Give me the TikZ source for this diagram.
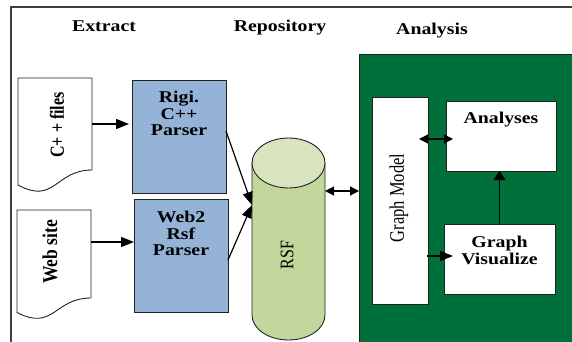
\documentclass[tikz,border=0pt]{standalone}
\usepackage{fontspec}
\setmainfont{Liberation Serif}
\newfontfamily\widefont{Liberation Serif}[FakeStretch=1.2]
\usetikzlibrary{arrows.meta}

\definecolor{parserblue}{HTML}{95B3D7}
\definecolor{rsfbody}{HTML}{C3D69B}
\definecolor{rsftop}{HTML}{D7E4BD}
\definecolor{panelgreen}{HTML}{00703A}
\definecolor{inkline}{HTML}{222222}

\tikzset{
  area/.style={inner sep=0pt, outer sep=0pt, anchor=north west},
  boxed/.style={area, draw=inkline, line width=0.9pt},
  head/.style={font=\widefont\bfseries\fontsize{16.5}{16.5}\selectfont, inner sep=0pt, anchor=base},
  boxtext/.style={font=\widefont\bfseries\fontsize{16.5}{16.5}\selectfont, inner sep=0pt, align=center, anchor=north},
  sidetext/.style={inner sep=0pt, rotate=90, anchor=center},
  arr/.style={draw=black, line width=1.2pt, -{Triangle[length=13pt,width=10pt]}},
  uparr/.style={draw=black, line width=1.2pt, -{Triangle[length=9pt,width=12pt]}},
  darr/.style={draw=black, line width=1.2pt, {Triangle[length=9pt,width=9pt]}-{Triangle[length=9pt,width=9pt]}},
  docline/.style={draw=inkline, line width=0.9pt, fill=white}
}

\begin{document}
\begin{tikzpicture}[x=1pt,y=-1pt]
\useasboundingbox (0,0) rectangle (572,342);

% outer frame, open towards the right and the bottom
\draw[line width=1.4pt, black!75] (11,342) -- (11,7) -- (572,7);

% column headings
\node[head] (hextract) at (104,32) {Extract};
\node[head] (hrepo) at (280,32) {Repository};
\node[head] (hanalysis) at (432,35) {Analysis};

% ---------- Extract ----------
\node[area, minimum width=74pt, minimum height=92pt] (cppdoc) at (18,78) {};
\draw[docline] (cppdoc.north west) -- (cppdoc.north east) -- (cppdoc.south east)
  .. controls (55,170) and (55,205) .. (18,185) -- cycle;
\node[sidetext, font=\bfseries\fontsize{16}{16}\selectfont] (cpptext) at (57,125)
  {\scalebox{1}[1.25]{C+ + files}};

\node[area, minimum width=74pt, minimum height=88pt] (webdoc) at (17,210) {};
\draw[docline] (webdoc.north west) -- (webdoc.north east) -- (webdoc.south east)
  .. controls (54,298) and (54,331.5) .. (17,312.5) -- cycle;
\node[sidetext, font=\bfseries\fontsize{17.5}{17.5}\selectfont] (webtext) at (50,252)
  {\scalebox{1}[1.2]{Web site}};

\node[boxed, fill=parserblue, minimum width=94pt, minimum height=113pt] (rigi) at (132,80) {};
\node[boxtext] (rigitext) at (179,91) {Rigi.\\C++\\Parser};

\node[boxed, fill=parserblue, minimum width=94pt, minimum height=113pt] (web2) at (134,199) {};
\node[boxtext] (web2text) at (181,211) {Web2\\Rsf\\Parser};

\draw[arr, shorten >=3pt] (cppdoc.east) -- (cppdoc.east -| rigi.west);
\draw[arr] ([yshift=12pt]webdoc.east) -- ([yshift=12pt]webdoc.east -| web2.west);

% ---------- Repository ----------
\node[area, minimum width=73pt, minimum height=202pt] (rsf) at (252,138) {};
\draw[draw=inkline, line width=0.9pt, fill=rsfbody]
  (252,163) -- (252,315)
  .. controls (252,328.8) and (268.3,340) .. (288.5,340)
  .. controls (308.7,340) and (325,328.8) .. (325,315)
  -- (325,163) -- cycle;
\draw[draw=inkline, line width=0.9pt, fill=rsftop] (288.5,163) ellipse [x radius=36.5pt, y radius=25pt];
\node[sidetext, font=\fontsize{16}{16}\selectfont] (rsftext) at (287,255)
  {\scalebox{1}[1.2]{RSF}};

\draw[arr] ([yshift=5.5pt]rigi.east) -- ([yshift=34pt]rsf.west);
\draw[arr] ([yshift=-4.5pt]web2.east) -- ([yshift=34pt]rsf.west);

% ---------- Analysis ----------
\node[boxed, fill=panelgreen, minimum width=225pt, minimum height=300pt] (panel) at (359,54) {};

\draw[darr] ([yshift=48pt]rsf.east) -- ([yshift=48pt]rsf.east -| panel.west);

\node[boxed, fill=white, minimum width=56pt, minimum height=207pt] (gm) at (372,97) {};
\node[sidetext, font=\fontsize{16.5}{16.5}\selectfont] (gmtext) at (399,198)
  {\scalebox{1}[1.25]{Graph Model}};

\node[boxed, fill=white, minimum width=110pt, minimum height=70pt] (an) at (446,101) {};
\node[head] (antext) at ([yshift=-23pt]an.north) {Analyses};

\node[boxed, fill=white, minimum width=111pt, minimum height=70pt] (gv) at (444,224) {};
\node[boxtext] (gvtext) at (499.5,236) {Graph\\Visualize};

\draw[darr, shorten <=-9pt, shorten >=-7pt] ([yshift=-3pt]an.west -| gm.east) -- ([yshift=-3pt]an.west);
\draw[arr, shorten <=-1pt, shorten >=-9pt] ([yshift=3pt]gv.west -| gm.east) -- ([yshift=3pt]gv.west);
\draw[uparr] (gv.north) -- (gv.north |- an.south);
\end{tikzpicture}
\end{document}
